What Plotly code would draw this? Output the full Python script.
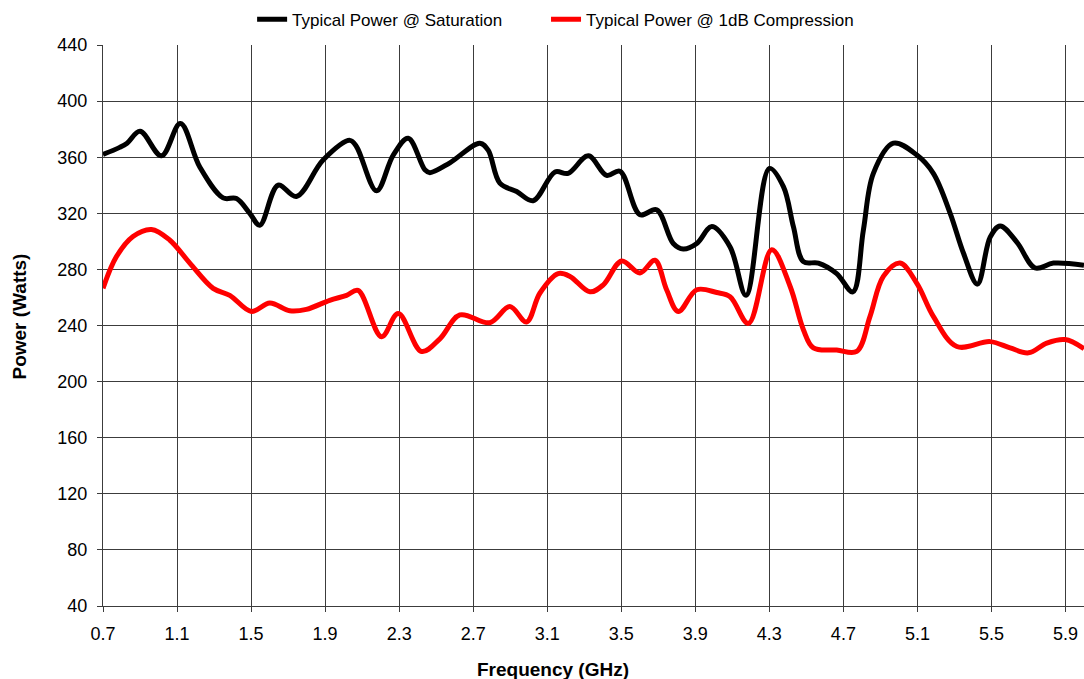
import plotly.graph_objects as go

# Typical Power @ Saturation (black)
sat_freq = [0.70, 0.79, 0.83, 0.90, 1.016, 1.118, 1.223, 1.349, 1.421, 1.493, 1.547, 1.646, 1.745,
            1.889, 2.034, 2.07, 2.178, 2.268, 2.349, 2.439, 2.466, 2.574, 2.736, 2.781, 2.844, 2.935,
            3.024, 3.142, 3.213, 3.322, 3.421, 3.493, 3.601, 3.691, 3.781, 3.835, 3.908, 3.989, 4.088,
            4.174, 4.30, 4.376, 4.43, 4.484, 4.565, 4.664, 4.751, 4.808, 4.862, 4.97, 5.097, 5.186,
            5.277, 5.349, 5.424, 5.493, 5.547, 5.637, 5.736, 5.835, 6.0]
sat_power = [362, 367, 370, 378.5, 361, 384, 353, 331, 330.5, 320, 311.5, 340, 332,
             358, 372, 367.5, 336, 361.5, 373.5, 351, 349, 356, 370, 365, 341.5, 335.5,
             329, 349.5, 348.5, 361, 347, 350, 319, 322.5, 298.5, 294.5, 298.5, 310.5, 296,
             261.5, 352, 339, 310.5, 285.5, 284.5, 277, 264, 308, 348.5, 370, 361.5, 348.5,
             320, 291.5, 269.5, 303, 311, 299.5, 281, 284.5, 283]

# Typical Power @ 1dB Compression (red)
comp_freq = [0.70, 0.772, 0.862, 0.962, 1.06, 1.169, 1.295, 1.385, 1.502, 1.601, 1.709, 1.799,
             1.925, 2.016, 2.078, 2.205, 2.295, 2.421, 2.52, 2.628, 2.79, 2.898, 2.988, 3.06,
             3.159, 3.223, 3.331, 3.403, 3.502, 3.601, 3.682, 3.745, 3.808, 3.908, 4.016, 4.088,
             4.187, 4.313, 4.412, 4.484, 4.538, 4.664, 4.772, 4.844, 4.916, 5.006, 5.097, 5.186,
             5.313, 5.493, 5.601, 5.70, 5.799, 5.898, 6.0]
comp_power = [266.5, 289, 303.5, 308.5, 301, 284.5, 266.5, 261.5, 250, 256, 250.5, 251.5,
              258, 261.5, 265, 232, 248.5, 221.5, 230.5, 247.5, 242, 253.5, 242.5, 263,
              277, 275, 264, 269, 286, 277.5, 286.5, 265.5, 250, 265.5, 263.5, 260.5,
              241.5, 294, 268, 237, 224, 222.5, 221.5, 246.5, 275, 284.5, 270, 246.5,
              225, 228.5, 224, 220.5, 227.5, 230, 223.5]

x_ticks = [0.7, 1.1, 1.5, 1.9, 2.3, 2.7, 3.1, 3.5, 3.9, 4.3, 4.7, 5.1, 5.5, 5.9]
x_tick_labels = ["0.7", "1.1", "1.5", "1.9", "2.3", "2.7", "3.1", "3.5", "3.9", "4.3", "4.7", "5.1", "5.5", "5.9"]
y_ticks = list(range(40, 441, 40))

FONT = "Liberation Sans, Arial, sans-serif"
GRID = "#3c3c3c"

fig = go.Figure()
fig.add_trace(go.Scatter(x=sat_freq, y=sat_power, mode="lines", name="Typical Power @ Saturation",
                         legend="legend",
                         line=dict(color="#000000", width=5, shape="spline", smoothing=1.0)))
fig.add_trace(go.Scatter(x=comp_freq, y=comp_power, mode="lines", name="Typical Power @ 1dB Compression",
                         legend="legend2",
                         line=dict(color="#ff0000", width=5, shape="spline", smoothing=1.0)))

legend_style = dict(orientation="h", xanchor="left", y=1.045, yanchor="middle",
                    font=dict(family=FONT, size=17, color="#000000"),
                    bgcolor="rgba(0,0,0,0)", itemwidth=30)

fig.update_layout(
    width=1084, height=679,
    margin=dict(l=103, r=0, t=45, b=73, autoexpand=False),
    paper_bgcolor="white", plot_bgcolor="white",
    font=dict(family=FONT, size=17, color="#000000"),
    showlegend=True,
    legend=dict(x=0.152, **legend_style),
    legend2=dict(x=0.4516, **legend_style),
    xaxis=dict(range=[0.7, 6.0], tickmode="array", tickvals=x_ticks, ticktext=x_tick_labels,
               showgrid=True, gridcolor=GRID, gridwidth=1,
               showline=True, linecolor=GRID, linewidth=1,
               ticks="outside", ticklen=5, tickcolor=GRID, ticklabelstandoff=6,
               tickfont=dict(family=FONT, size=18, color="#000000"), zeroline=False),
    yaxis=dict(range=[40, 440], tickmode="array", tickvals=y_ticks,
               showgrid=True, gridcolor=GRID, gridwidth=1,
               showline=True, linecolor=GRID, linewidth=1,
               ticks="outside", ticklen=5, tickcolor=GRID, ticklabelstandoff=6,
               tickfont=dict(family=FONT, size=18, color="#000000"), zeroline=False),
    annotations=[
        dict(text="<b>Frequency (GHz)</b>", xref="paper", yref="paper", x=0.4587, y=-0.114,
             xanchor="center", yanchor="middle", showarrow=False,
             font=dict(family=FONT, size=19, color="#000000")),
        dict(text="<b>Power (Watts)</b>", xref="paper", yref="paper", x=-0.0846, y=0.516,
             xanchor="center", yanchor="middle", showarrow=False, textangle=-90,
             font=dict(family=FONT, size=19, color="#000000")),
    ],
)

fig.write_html("out.html",
               config={"displayModeBar": False},
               post_script="document.body.style.margin='0';document.body.style.overflow='hidden';")
